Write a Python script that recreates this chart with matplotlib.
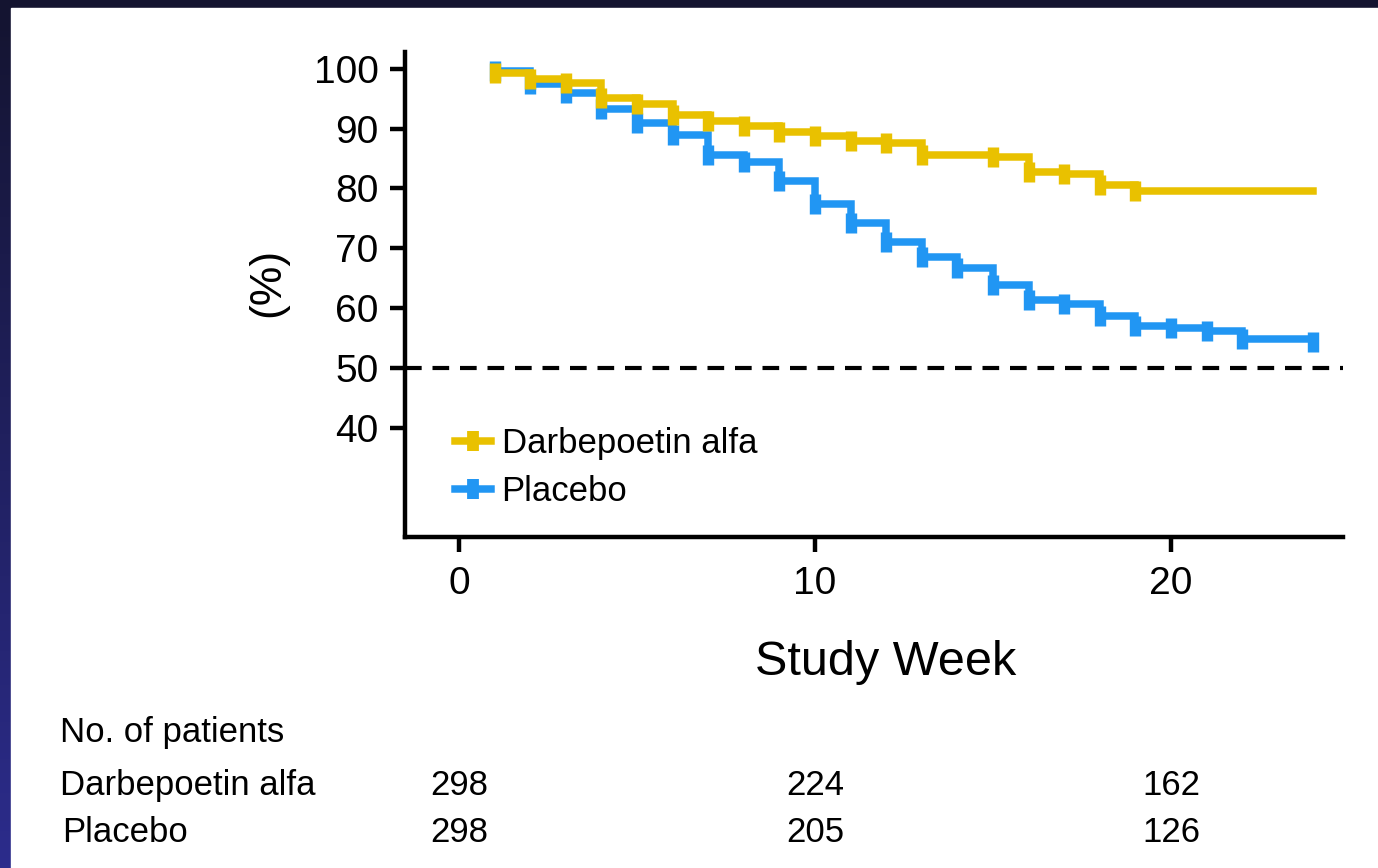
import numpy as np
import matplotlib
matplotlib.use("Agg")
import matplotlib.pyplot as plt
from matplotlib import font_manager
from matplotlib.lines import Line2D
from matplotlib.patches import Rectangle
import matplotlib.transforms as mtransforms

# ---- data ----
darb_weeks = [1, 2, 3, 4, 5, 6, 7, 8, 9, 10, 11, 12, 13, 15, 16, 17, 18, 19]
darb_pct = [99.3, 98.3, 97.6, 95.1, 94.1, 92.3, 91.2, 90.4, 89.5, 88.8,
            88.0, 87.6, 85.6, 85.2, 82.8, 82.4, 80.6, 79.5]
darb_last_week = 24

plac_weeks = [1, 2, 3, 4, 5, 6, 7, 8, 9, 10, 11, 12, 13, 14, 15, 16, 17,
              18, 19, 20, 21, 22, 24]
plac_pct = [99.7, 97.5, 95.9, 93.3, 90.9, 89.0, 85.5, 84.4, 81.3, 77.3,
            74.2, 71.0, 68.5, 66.7, 63.9, 61.4, 60.7, 58.6, 56.9, 56.6,
            56.2, 54.8, 54.3]

risk_weeks = [0, 10, 20]
risk_darb = [298, 224, 162]
risk_plac = [298, 205, 126]

YELLOW = "#E9C100"
BLUE = "#2196F3"


def have_font(name):
    return any(f.name == name for f in font_manager.fontManager.ttflist)


MAIN_FONT = "Liberation Sans" if have_font("Liberation Sans") else "DejaVu Sans"
NARROW_FONT = "Liberation Sans Narrow" if have_font("Liberation Sans Narrow") else MAIN_FONT
NARROW_OK = NARROW_FONT != MAIN_FONT

plt.rcParams["font.family"] = [MAIN_FONT, "DejaVu Sans"]

W, H = 1378, 868
fig = plt.figure(figsize=(W / 100, H / 100), dpi=100)

# dark navy frame with a gradient, white panel on top
bg = fig.add_axes([0, 0, 1, 1], zorder=-10)
grad = np.linspace(0, 1, 256).reshape(-1, 1)
cmap = matplotlib.colors.LinearSegmentedColormap.from_list("frame", ["#141430", "#2c2c8c"])
bg.imshow(grad, aspect="auto", cmap=cmap, extent=[0, 1, 0, 1], origin="upper")
bg.add_patch(Rectangle((11 / W, 0), 1 - 11 / W, 1 - 8 / H, color="white"))
bg.set_xlim(0, 1)
bg.set_ylim(0, 1)
bg.axis("off")

ax = fig.add_axes([405 / W, (H - 537) / H, (1343 - 405) / W, (537 - 52) / H])
ax.set_facecolor("none")

# step curves (placebo underneath)
for weeks, pct, color, last in [
    (plac_weeks, plac_pct, BLUE, None),
    (darb_weeks, darb_pct, YELLOW, darb_last_week),
]:
    xs = list(weeks)
    ys = list(pct)
    if last is not None:
        xs = xs + [last]
        ys = ys + [ys[-1]]
    ax.step(xs, ys, where="post", color=color, lw=5.4, solid_joinstyle="miter")
    ax.plot(weeks, pct, ls="none", marker="|", ms=14, mew=8.2, color=color)

ax.axhline(50, color="black", lw=3.0, ls=(0, (4.0, 2.6)))

ax.set_xlim(-1.52, 24.83)
ax.set_ylim(21.7, 102.8)
ax.set_xticks([0, 10, 20])
ax.set_yticks([40, 50, 60, 70, 80, 90, 100])

for s in ["top", "right"]:
    ax.spines[s].set_visible(False)
for s in ["left", "bottom"]:
    ax.spines[s].set_linewidth(3.2)
ax.tick_params(axis="both", length=11, width=3.2, labelsize=28, direction="out")
ax.tick_params(axis="y", pad=8)
ax.tick_params(axis="x", pad=10)

# legend
handles = [
    Line2D([], [], color=YELLOW, lw=5.4, marker="|", ms=15, mew=8.5),
    Line2D([], [], color=BLUE, lw=5.4, marker="|", ms=15, mew=8.5),
]
ax.legend(handles, ["Darbepoetin alfa", "Placebo"], loc="upper left",
          bbox_to_anchor=(0.053, 0.226), frameon=False, fontsize=25,
          handlelength=1.05, handletextpad=0.3, labelspacing=0.42,
          borderpad=0, borderaxespad=0)

fig.text(886 / W, (H - 675) / H, "Study Week", family=NARROW_FONT,
         fontsize=40 if NARROW_OK else 35, ha="center", va="baseline")
fig.text(268 / W, (H - 282) / H, "(%)", family=NARROW_FONT,
         fontsize=36 if NARROW_OK else 32, rotation=90, ha="center", va="center")

# number at risk table
fig.text(60 / W, (H - 742) / H, "No. of patients", fontsize=25, va="baseline")
fig.text(60 / W, (H - 795) / H, "Darbepoetin alfa", fontsize=25, va="baseline")
fig.text(62 / W, (H - 842) / H, "Placebo", fontsize=25, va="baseline")
trans = mtransforms.blended_transform_factory(ax.transData, fig.transFigure)
for wk, nd, npl in zip(risk_weeks, risk_darb, risk_plac):
    ax.text(wk, (H - 795) / H, str(nd), transform=trans, fontsize=25,
            ha="center", va="baseline", clip_on=False)
    ax.text(wk, (H - 842) / H, str(npl), transform=trans, fontsize=25,
            ha="center", va="baseline", clip_on=False)

fig.savefig("out.png", dpi=100)
